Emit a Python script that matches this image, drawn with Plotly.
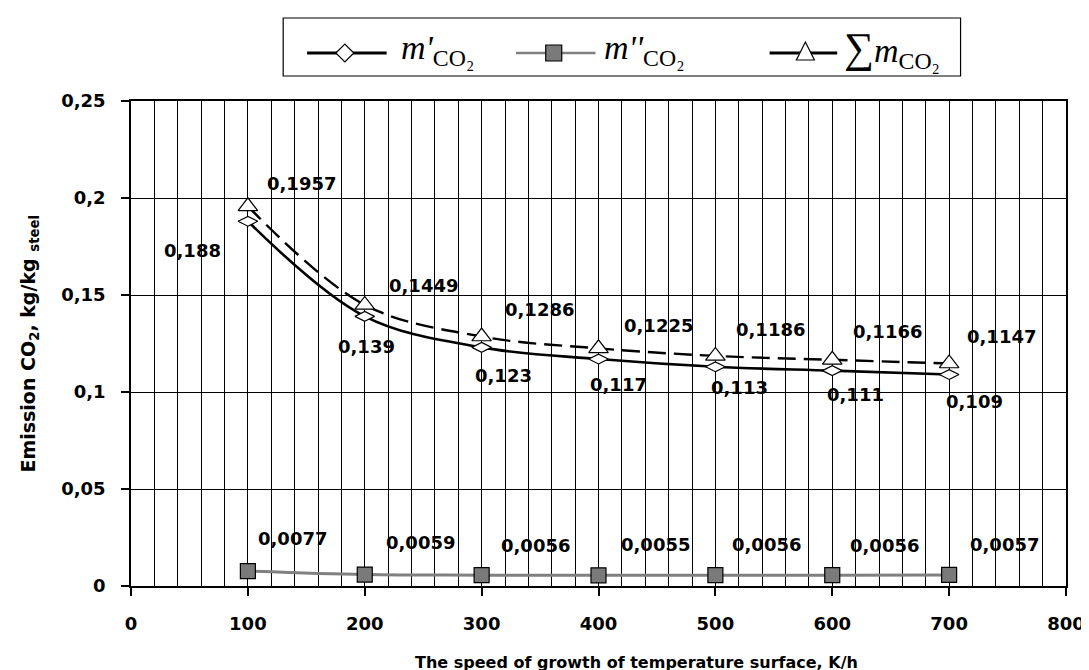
import plotly.graph_objects as go

# ---------------- data ----------------
x_vals = [100, 200, 300, 400, 500, 600, 700]
m_prime = [0.188, 0.139, 0.123, 0.117, 0.113, 0.111, 0.109]
m_dprime = [0.0077, 0.0059, 0.0056, 0.0055, 0.0056, 0.0056, 0.0057]
m_sum = [0.1957, 0.1449, 0.1286, 0.1225, 0.1186, 0.1166, 0.1147]

x_ticks = [0, 100, 200, 300, 400, 500, 600, 700, 800]
y_ticks = [0, 0.05, 0.1, 0.15, 0.2, 0.25]
y_ticktext = ["0", "0,05", "0,1", "0,15", "0,2", "0,25"]

x_title = "The speed of growth of temperature surface, K/h"
y_title = "Emission CO<sub>2</sub>, kg/kg <sub>steel</sub>"

# label offsets (screen px: dx right, dy down) - layout only
off_prime = [(-55, 29), (2, 30), (22, 28), (20, 25), (24, 21), (23, 24), (25, 27)]
off_sum = [(54, -23), (59, -19), (58, -27), (60, -23), (55, -26), (55, -28), (52, -27)]
off_dprime = [(45, -33), (56, -32), (54, -30), (57, -31), (51, -31), (52, -30), (55, -30)]


def fmt(v):
    return str(v).replace(".", ",")


fig = go.Figure()

fig.add_trace(go.Scatter(
    x=x_vals, y=m_prime, mode="lines+markers",
    line=dict(color="black", width=2.6, shape="spline", smoothing=1),
    marker=dict(symbol="diamond-wide", size=14, color="white",
                line=dict(color="black", width=1.2)),
))
fig.add_trace(go.Scatter(
    x=x_vals, y=m_dprime, mode="lines+markers",
    line=dict(color="#808080", width=3, shape="spline", smoothing=1),
    marker=dict(symbol="square", size=15, color="#7a7a7a",
                line=dict(color="black", width=1.2)),
))
fig.add_trace(go.Scatter(
    x=x_vals, y=m_sum, mode="lines+markers",
    line=dict(color="black", width=2.4, shape="spline", smoothing=1, dash="18px,8px"),
    marker=dict(symbol="triangle-up", size=17, color="white",
                line=dict(color="black", width=1.2)),
))

lab_font = dict(family="DejaVu Sans", size=18, color="black", weight="bold")
annotations = []
for series, offs in ((m_prime, off_prime), (m_sum, off_sum), (m_dprime, off_dprime)):
    for xv, yv, (dx, dy) in zip(x_vals, series, offs):
        annotations.append(dict(x=xv, y=yv, xref="x", yref="y", text=fmt(yv),
                                showarrow=False, xshift=dx, yshift=-dy,
                                font=lab_font))

# axis titles
annotations.append(dict(x=0.5404, y=-0.157, xref="paper", yref="paper",
                        text="<b>" + x_title + "</b>", showarrow=False,
                        xanchor="center", yanchor="middle",
                        font=dict(family="DejaVu Sans", size=16, color="black")))
annotations.append(dict(x=-0.109, y=0.5, xref="paper", yref="paper",
                        text="<b>" + y_title + "</b>", showarrow=False, textangle=-90,
                        xanchor="center", yanchor="middle",
                        font=dict(family="DejaVu Sans", size=19, color="black")))

# ---------------- custom legend ----------------
def px_x(X):
    return (X - 123) / 940.0


def px_y(Y):
    return (578 - Y) / 485.0


shapes = []
shapes.append(dict(type="rect", xref="paper", yref="paper",
                   x0=px_x(276), x1=px_x(957), y0=px_y(68), y1=px_y(10),
                   line=dict(color="black", width=1.2), fillcolor="white", layer="above"))
ly = px_y(45)
shapes.append(dict(type="line", xref="paper", yref="paper", x0=px_x(300), x1=px_x(380),
                   y0=ly, y1=ly, line=dict(color="black", width=3), layer="above"))
shapes.append(dict(type="line", xref="paper", yref="paper", x0=px_x(510), x1=px_x(590),
                   y0=ly, y1=ly, line=dict(color="#808080", width=2.6), layer="above"))
shapes.append(dict(type="line", xref="paper", yref="paper", x0=px_x(765), x1=px_x(833),
                   y0=ly, y1=ly, line=dict(color="black", width=3), layer="above"))
shapes.append(dict(type="path", xref="paper", yref="paper", xsizemode="pixel", ysizemode="pixel",
                   xanchor=px_x(338), yanchor=ly, path="M-9,0 L0,9 L9,0 L0,-9 Z",
                   fillcolor="white", line=dict(color="black", width=1.2), layer="above"))
shapes.append(dict(type="path", xref="paper", yref="paper", xsizemode="pixel", ysizemode="pixel",
                   xanchor=px_x(548), yanchor=ly, path="M-8,-8 L8,-8 L8,8 L-8,8 Z",
                   fillcolor="#7a7a7a", line=dict(color="black", width=1.2), layer="above"))
shapes.append(dict(type="path", xref="paper", yref="paper", xsizemode="pixel", ysizemode="pixel",
                   xanchor=px_x(801), yanchor=ly, path="M-9,-7 L9,-7 L0,11 Z",
                   fillcolor="white", line=dict(color="black", width=1.2), layer="above"))

leg_font = dict(family="Liberation Serif", size=34, color="black")
annotations.append(dict(x=px_x(392), y=px_y(42), xref="paper", yref="paper",
                        text="<i>m'</i><sub>CO₂</sub>", showarrow=False,
                        xanchor="left", yanchor="middle", font=leg_font))
annotations.append(dict(x=px_x(597), y=px_y(42), xref="paper", yref="paper",
                        text="<i>m''</i><sub>CO₂</sub>", showarrow=False,
                        xanchor="left", yanchor="middle", font=leg_font))
annotations.append(dict(x=px_x(838), y=px_y(42), xref="paper", yref="paper",
                        text="<span style='font-size:42px'>∑</span><i>m</i><sub>CO₂</sub>",
                        showarrow=False, xanchor="left", yanchor="middle", font=leg_font))

fig.update_layout(
    width=1089, height=670,
    margin=dict(l=123, r=26, t=93, b=92),
    plot_bgcolor="white", paper_bgcolor="white",
    showlegend=False,
    font=dict(family="DejaVu Sans", size=18, color="black"),
    annotations=annotations, shapes=shapes,
)

fig.update_xaxes(
    range=[0, 800], tickvals=x_ticks, ticktext=[str(t) for t in x_ticks],
    ticks="outside", ticklen=8, tickwidth=1.5, tickcolor="black",
    showline=True, linecolor="black", linewidth=1.5, mirror=True,
    showgrid=True, gridcolor="black", gridwidth=1.2, zeroline=False,
    minor=dict(dtick=20, showgrid=True, gridcolor="black", gridwidth=1.2, ticks=""),
    tickfont=dict(family="DejaVu Sans", size=18, color="black", weight="bold"),
    ticklabelstandoff=13,
)
fig.update_yaxes(
    range=[0, 0.25], tickvals=y_ticks, ticktext=y_ticktext,
    ticks="outside", ticklen=8, tickwidth=1.5, tickcolor="black",
    showline=True, linecolor="black", linewidth=1.5, mirror=True,
    showgrid=True, gridcolor="black", gridwidth=1.2, zeroline=False,
    tickfont=dict(family="DejaVu Sans", size=18, color="black", weight="bold"),
    ticklabelstandoff=12,
)

fig.write_html("out.html")
